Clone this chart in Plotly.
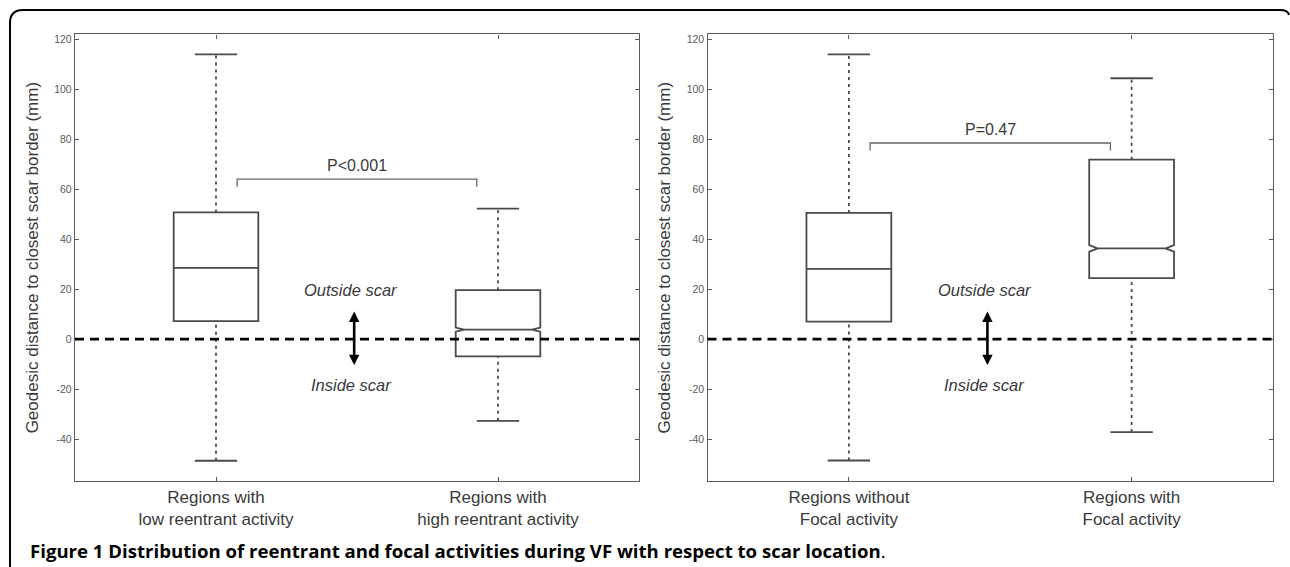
import plotly.graph_objects as go

# ---------------- data ----------------
left_labels = ["Regions with<br>low reentrant activity", "Regions with<br>high reentrant activity"]
left_lowerfence = [-48.7, -32.7]
left_q1 = [7.2, -6.9]
left_median = [28.5, 3.8]
left_q3 = [50.7, 19.6]
left_upperfence = [114.0, 52.2]
left_notched = [False, True]
left_notchspan = [1.0, 0.8]

right_labels = ["Regions without<br>Focal activity", "Regions with<br>Focal activity"]
right_lowerfence = [-48.6, -37.2]
right_q1 = [7.0, 24.4]
right_median = [28.1, 36.3]
right_q3 = [50.5, 71.8]
right_upperfence = [114.0, 104.4]
right_notched = [False, True]
right_notchspan = [1.0, 1.3]

p_texts = ["P<0.001", "P=0.47"]
bracket_levels = [64.0, 78.5]
bracket_drop = 3.0
bracket_x = [1.075, 1.925]

y_ticks = [-40, -20, 0, 20, 40, 60, 80, 100, 120]
y_ticktext = [str(v) for v in y_ticks]
y_title = "Geodesic distance to closest scar border (mm)"
caption_bold = "Figure 1 Distribution of reentrant and focal activities during VF with respect to scar location"

# ---------------- style ----------------
W, H = 1290, 567
BOX_COLOR = "#4a4a4a"
AX_COLOR = "#5a5a5a"
TXT_COLOR = "#3a3a3a"
FONT = "Liberation Sans, Arial, sans-serif"
box_w = 0.30
cap_w = 0.15
positions = [1, 2]

fig = go.Figure()

panels = [
    dict(xa="x", ya="y", labels=left_labels, lf=left_lowerfence, q1=left_q1, med=left_median,
         q3=left_q3, uf=left_upperfence, notched=left_notched, ns=left_notchspan,
         ptxt=p_texts[0], blev=bracket_levels[0]),
    dict(xa="x2", ya="y2", labels=right_labels, lf=right_lowerfence, q1=right_q1, med=right_median,
         q3=right_q3, uf=right_upperfence, notched=right_notched, ns=right_notchspan,
         ptxt=p_texts[1], blev=bracket_levels[1]),
]

for p in panels:
    for i, pos in enumerate(positions):
        # box body (whiskers drawn separately as dotted lines)
        fig.add_trace(go.Box(
            x=[pos], q1=[p["q1"][i]], median=[p["med"][i]], q3=[p["q3"][i]],
            lowerfence=[p["q1"][i]], upperfence=[p["q3"][i]],
            notched=p["notched"][i], notchspan=[p["ns"][i]], notchwidth=0.1,
            width=box_w, whiskerwidth=0,
            fillcolor="rgba(255,255,255,0)",
            line=dict(color=BOX_COLOR, width=1.8),
            boxpoints=False, hoverinfo="skip", showlegend=False,
            xaxis=p["xa"], yaxis=p["ya"],
        ))
        # dotted whiskers
        for a, b in [(p["q3"][i], p["uf"][i]), (p["lf"][i], p["q1"][i])]:
            fig.add_trace(go.Scatter(
                x=[pos, pos], y=[a, b], mode="lines",
                line=dict(color=BOX_COLOR, width=1.8, dash="3px,4px"),
                hoverinfo="skip", showlegend=False, xaxis=p["xa"], yaxis=p["ya"],
            ))
        # caps
        for v in [p["uf"][i], p["lf"][i]]:
            fig.add_trace(go.Scatter(
                x=[pos - cap_w / 2, pos + cap_w / 2], y=[v, v], mode="lines",
                line=dict(color=BOX_COLOR, width=1.8),
                hoverinfo="skip", showlegend=False, xaxis=p["xa"], yaxis=p["ya"],
            ))
    # significance bracket
    fig.add_trace(go.Scatter(
        x=[bracket_x[0], bracket_x[0], bracket_x[1], bracket_x[1]],
        y=[p["blev"] - bracket_drop, p["blev"], p["blev"], p["blev"] - bracket_drop],
        mode="lines", line=dict(color="#666666", width=1.3),
        hoverinfo="skip", showlegend=False, xaxis=p["xa"], yaxis=p["ya"],
    ))
    fig.add_annotation(x=1.5, y=p["blev"] + 5.5, xref=p["xa"], yref=p["ya"], text=p["ptxt"],
                       showarrow=False, font=dict(family=FONT, size=16, color=TXT_COLOR))
    # zero dashed line
    fig.add_shape(type="line", xref=p["xa"] + " domain", yref=p["ya"], x0=0, x1=1, y0=0, y1=0,
                  line=dict(color="black", width=2.6, dash="9px,6px"), layer="above")
    # outside / inside scar labels and arrow
    fig.add_annotation(x=1.48, y=19.5, xref=p["xa"], yref=p["ya"], text="<i>Outside scar</i>",
                       showarrow=False, font=dict(family=FONT, size=16.5, color=TXT_COLOR))
    fig.add_annotation(x=1.48, y=-18.5, xref=p["xa"], yref=p["ya"], text="<i>Inside scar</i>",
                       showarrow=False, font=dict(family=FONT, size=16.5, color=TXT_COLOR))
    fig.add_annotation(x=1.49, y=11.0, ax=1.49, ay=-11.0, xref=p["xa"], yref=p["ya"],
                       axref=p["xa"], ayref=p["ya"], text="", showarrow=True,
                       arrowhead=2, startarrowhead=2, arrowside="end+start",
                       arrowsize=0.8, startarrowsize=0.8, arrowwidth=2.6, arrowcolor="black")

x_domains = [[75 / W, 639 / W], [707.5 / W, 1273 / W]]
y_domain = [1 - 481 / H, 1 - 34.3 / H]
axis_common = dict(showline=True, linecolor=AX_COLOR, linewidth=1.4, mirror="ticks",
                   ticks="inside", ticklen=4, tickcolor=AX_COLOR, tickwidth=1.2,
                   showgrid=False, zeroline=False, automargin=False)

for k, (labels, dom) in enumerate([(left_labels, x_domains[0]), (right_labels, x_domains[1])]):
    suffix = "" if k == 0 else str(k + 1)
    fig.update_layout(**{
        "xaxis" + suffix: dict(domain=dom, range=[0.5, 2.5], tickvals=positions, ticktext=labels,
                               tickfont=dict(family=FONT, size=17, color=TXT_COLOR),
                               anchor="y" + suffix, **axis_common),
        "yaxis" + suffix: dict(domain=y_domain, range=[-56.8, 122], tickvals=y_ticks,
                               ticktext=y_ticktext,
                               tickfont=dict(family=FONT, size=10.5, color=AX_COLOR),
                               title=dict(text=y_title, font=dict(family=FONT, size=17, color=TXT_COLOR),
                                          standoff=11),
                               anchor="x" + suffix, **axis_common),
    })

# caption
fig.add_annotation(x=28 / W, y=1 - 550 / H, xref="paper", yref="paper", xanchor="left", yanchor="middle",
                   text="<b>" + caption_bold + "</b>.", showarrow=False,
                   font=dict(family="Open Sans, Noto Sans, sans-serif", size=18.6, color="black"))

# outer rounded frame (right side only shows its top corner)
def px(x, y):
    return f"{x / W:.5f},{1 - y / H:.5f}"

r = 13
frame = (f"M {px(10, 600)} L {px(10, 10 + r)} Q {px(10, 10)} {px(10 + r, 10)} "
         f"L {px(1280, 10)} Q {px(1288, 10)} {px(1289, 15)}")
fig.add_shape(type="path", xref="paper", yref="paper", path=frame,
              line=dict(color="black", width=2))

fig.update_layout(width=W, height=H, margin=dict(l=0, r=0, t=0, b=0),
                  paper_bgcolor="white", plot_bgcolor="white", showlegend=False)

fig.write_html("out.html", config={"displayModeBar": False},
               post_script="document.body.style.margin='0px';document.body.style.overflow='hidden';")
